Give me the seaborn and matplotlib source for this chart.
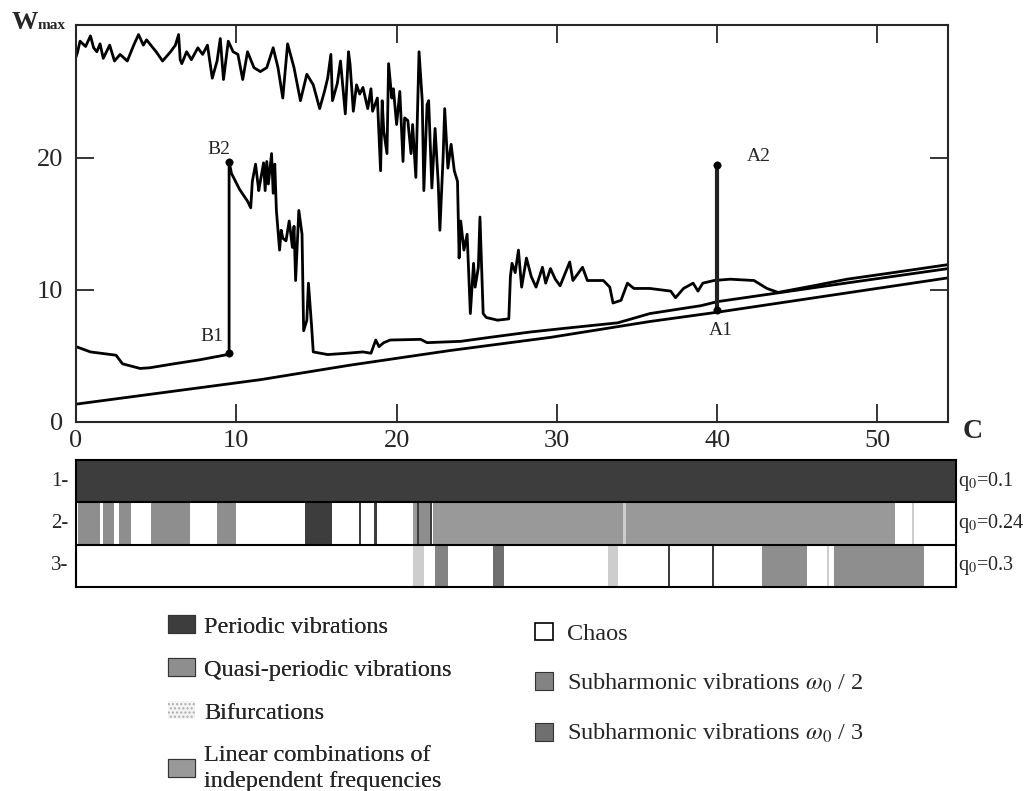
import matplotlib
matplotlib.use('Agg')
import matplotlib.pyplot as plt
import seaborn as sns
import pandas as pd
from matplotlib.patches import Patch

# ---- data ----
# upper (chaotic) response curve
top_c = [0, 0.1, 0.25, 0.6, 0.9, 1.1, 1.3, 1.5, 1.7, 2.1, 2.4, 2.75, 3.2, 3.6, 3.9, 4.2, 4.4, 4.6,
         5.0, 5.4, 5.9, 6.2, 6.4, 6.5, 6.6, 6.9, 7.2, 7.6, 7.9, 8.2, 8.5, 8.8, 9.0, 9.2, 9.5, 9.8,
         10.1, 10.4, 10.7, 11.1, 11.5, 11.9, 12.3, 12.6, 12.9, 13.2, 13.6, 14.0, 14.4, 14.8, 15.2,
         15.5, 15.7, 15.9, 16.0, 16.3, 16.5, 16.8, 17.0, 17.1, 17.3, 17.5, 17.7, 17.9, 18.2, 18.4,
         18.5, 18.8, 19.0, 19.1, 19.2, 19.4, 19.5, 19.7, 19.8, 20.0, 20.2, 20.4, 20.5, 20.7, 20.9,
         21.0, 21.2, 21.4, 21.6, 21.7, 21.9, 22.0, 22.2, 22.4, 22.6, 22.7, 22.9, 23.0, 23.2, 23.4,
         23.6, 23.8, 23.9, 24.0, 24.2, 24.4, 24.6, 24.8, 24.9, 25.1, 25.2, 25.4, 25.6, 26.3, 27.0,
         27.1, 27.2, 27.4, 27.6, 27.8, 28.1, 28.4, 28.7, 29.1, 29.3, 29.6, 29.9, 30.2, 30.5, 30.8,
         31.0, 31.3, 31.6, 31.9, 32.9, 33.3, 33.5, 34.0, 34.4, 34.8, 35.8, 37.1, 37.4, 37.9, 38.5,
         38.8, 39.1, 39.8, 40.8, 42.3, 43.1, 43.8, 46.0, 48.1, 51.0, 54.4]
top_w = [27.6, 28.0, 28.8, 28.4, 29.2, 28.3, 28.0, 28.6, 27.5, 28.5, 27.3, 27.8, 27.3, 28.5, 29.3, 28.5, 28.9, 28.6,
         28.0, 27.3, 28.0, 28.5, 29.3, 27.4, 27.1, 28.0, 27.4, 28.3, 27.8, 28.5, 26.0, 27.3, 29.0, 25.9, 28.8, 28.0,
         27.8, 25.9, 28.0, 26.8, 26.5, 26.8, 28.3, 26.8, 24.5, 28.6, 26.8, 24.3, 26.3, 25.5, 23.7,
         25.0, 26.0, 27.8, 24.3, 25.6, 27.3, 23.3, 28.0, 27.0, 23.5, 25.5, 24.8, 25.3, 23.7, 25.2,
         23.5, 24.5, 19.0, 24.3, 22.0, 20.3, 27.1, 24.5, 25.2, 22.5, 25.0, 19.7, 23.0, 22.8, 20.3,
         22.5, 18.5, 28.0, 24.3, 17.5, 24.0, 24.3, 17.7, 22.2, 18.0, 14.5, 20.0, 23.7, 19.2, 21.0,
         19.0, 18.2, 12.4, 15.2, 13.0, 14.2, 8.2, 12.0, 10.2, 11.7, 15.5, 8.2, 7.9, 7.7, 7.8,
         11.0, 12.0, 11.3, 13.0, 10.2, 12.4, 11.0, 10.2, 11.7, 10.5, 11.6, 10.8, 10.3, 11.2, 12.1,
         10.7, 11.2, 11.7, 10.7, 10.7, 10.2, 9.0, 9.2, 10.5, 10.1, 10.1, 9.9, 9.4, 10.1, 10.5,
         9.9, 10.5, 10.7, 10.8, 10.7, 10.1, 9.8, 10.3, 10.8, 11.3, 11.9]

# middle curve with the B1 -> B2 jump
b_c = [0, 0.9, 2.5, 2.9, 4.0, 4.6, 6.1, 7.7, 9.45, 9.55, 9.55, 9.7, 10.2, 10.7, 10.9, 11.0, 11.2, 11.4,
       11.5, 11.7, 11.8, 11.9, 12.0, 12.2, 12.3, 12.4, 12.5, 12.7, 12.8, 12.9, 13.1, 13.3, 13.5, 13.6,
       13.7, 13.9, 14.1, 14.2, 14.4, 14.5, 14.7, 14.8, 15.7, 16.9, 17.9, 18.4, 18.7, 18.9, 19.2, 19.6,
       21.5, 21.9, 24.0, 25.8, 28.3, 30.6, 33.8, 35.8, 39.0, 40.0, 44.0, 48.0, 54.4]
b_w = [5.7, 5.3, 5.05, 4.4, 4.05, 4.1, 4.4, 4.7, 5.1, 5.2, 19.7, 18.8, 17.6, 16.7, 16.2, 18.2, 19.5, 17.5,
       18.2, 19.6, 17.5, 19.7, 18.0, 20.3, 17.3, 19.5, 16.0, 13.0, 14.5, 13.9, 13.7, 15.2, 13.2, 14.8,
       10.7, 16.0, 14.2, 6.9, 7.7, 10.5, 7.2, 5.3, 5.1, 5.2, 5.3, 5.2, 6.2, 5.7, 6.0, 6.2,
       6.25, 6.0, 6.1, 6.4, 6.8, 7.1, 7.5, 8.2, 8.8, 9.1, 9.8, 10.5, 11.6]

# lower, nearly straight curve
lin_c = [0, 11.5, 17.1, 23.3, 29.6, 35.8, 40.0, 54.4]
lin_w = [1.35, 3.2, 4.3, 5.4, 6.4, 7.6, 8.3, 10.9]

# jump points
jump_names = ['B1', 'B2', 'A1', 'A2']
jump_c = [9.55, 9.55, 40.0, 40.0]
jump_w = [5.2, 19.7, 8.5, 19.4]

# regime strips: one list per row (start, end, regime)
row1_start = [0.0]
row1_end = [54.9]
row1_kind = ['per']
row2_start = [0.1, 1.7, 2.7, 4.7, 8.8, 14.3, 17.65, 18.6, 21.0, 21.3, 21.4, 22.1, 22.3, 34.1, 34.3, 52.15]
row2_end = [1.5, 2.4, 3.4, 7.1, 10.0, 16.0, 17.8, 18.75, 21.3, 21.4, 22.1, 22.2, 34.1, 34.3, 51.1, 52.3]
row2_kind = ['quasi', 'quasi', 'quasi', 'quasi', 'quasi', 'per', 'per', 'per', 'lin', 'per', 'quasi', 'per',
             'lin', 'bif', 'lin', 'bif']
row3_start = [21.0, 22.4, 26.0, 33.2, 36.95, 39.65, 42.8, 46.85, 47.3]
row3_end = [21.7, 23.2, 26.7, 33.8, 37.07, 39.77, 45.6, 46.97, 52.9]
row3_kind = ['bif', 'sub2', 'sub3', 'bif', 'per', 'per', 'quasi', 'bif', 'quasi']
row_labels = ['1-', '2-', '3-']
q_labels = [r'q$_0$=0.1', r'q$_0$=0.24', r'q$_0$=0.3']

kinds = ['per', 'quasi', 'bif', 'lin', 'chaos', 'sub2', 'sub3']
kind_names = ['Periodic vibrations', 'Quasi-periodic vibrations', 'Bifurcations',
              'Linear combinations of\nindependent frequencies', 'Chaos',
              r'Subharmonic vibrations $\omega_0$ / 2', r'Subharmonic vibrations $\omega_0$ / 3']
kind_colors = {'per': '#3d3d3d', 'quasi': '#8e8e8e', 'bif': '#cdcdcd', 'lin': '#999999',
               'chaos': 'white', 'sub2': '#838383', 'sub3': '#6f6f6f'}

# ---- style ----
sns.set_style('ticks')
plt.rcParams['font.family'] = ['Liberation Serif', 'DejaVu Serif']
plt.rcParams['mathtext.fontset'] = 'stix'

fig = plt.figure(figsize=(10.3, 7.91), dpi=100)
ax = fig.add_axes([0.0738, 0.4665, 0.8466, 0.5015])
ax2 = fig.add_axes([0.0738, 0.258, 0.8544, 0.1606])

# ---- main plot ----
for cx, wy in [(lin_c, lin_w), (b_c, b_w), (top_c, top_w)]:
    sns.lineplot(x=cx, y=wy, ax=ax, color='black', lw=2.0, estimator=None, sort=False)
sns.lineplot(x=jump_c[2:], y=jump_w[2:], ax=ax, color='#222222', lw=3.0, estimator=None, sort=False)
sns.scatterplot(x=jump_c, y=jump_w, ax=ax, color='black', s=28, edgecolor='black', zorder=5)

ax.text(8.9, 20.6, 'B2', fontsize=14, ha='center', va='center')
ax.text(8.5, 6.5, 'B1', fontsize=14, ha='center', va='center')
ax.text(42.6, 20.1, 'A2', fontsize=14, ha='center', va='center')
ax.text(40.2, 6.9, 'A1', fontsize=14, ha='center', va='center')

ax.set_xlim(0, 54.4)
ax.set_ylim(0, 30)
ax.set_xticks([0, 10, 20, 30, 40, 50])
ax.set_yticks([0, 10, 20])
ax.tick_params(direction='in', length=13, width=1.3, top=True, right=True, labelsize=19)
ax.tick_params(axis='x', pad=6)
ax.tick_params(axis='y', pad=9)
for s in ax.spines.values():
    s.set_linewidth(1.5)
ax.set_xlabel('')
ax.set_ylabel('')
fig.text(0.011, 0.972, 'W', fontsize=19, fontweight='bold', ha='left', va='center')
fig.text(0.036, 0.968, 'max', fontsize=11, fontweight='bold', ha='left', va='center')
fig.text(0.935, 0.455, 'C', fontsize=20, fontweight='bold', ha='left', va='center')

# ---- regime strips ----
rows = [(row1_start, row1_end, row1_kind), (row2_start, row2_end, row2_kind), (row3_start, row3_end, row3_kind)]
for i, (st, en, kd) in enumerate(rows):
    seg = pd.DataFrame({'start': st, 'end': en, 'kind': kd})
    seg['width'] = seg['end'] - seg['start']
    ax2.barh(y=[i + 0.5] * len(seg), width=seg['width'], left=seg['start'], height=1.0,
             color=[kind_colors[k] for k in seg['kind']], linewidth=0)
    ax2.text(-0.45, i + 0.5, row_labels[i], fontsize=15, ha='right', va='center')
    ax2.text(55.05, i + 0.5, q_labels[i], fontsize=14.5, ha='left', va='center')
for yy in [1, 2]:
    ax2.axhline(yy, color='black', lw=1.5)
ax2.set_xlim(0, 54.9)
ax2.set_ylim(3, 0)
ax2.set_xticks([])
ax2.set_yticks([])
for s in ax2.spines.values():
    s.set_linewidth(1.5)
    s.set_color('black')

# ---- legend ----
handles = []
for k, name in zip(kinds, kind_names):
    if k == 'bif':
        handles.append(Patch(facecolor='#f4f4f4', edgecolor='#aaaaaa', hatch='....', lw=0, label=name))
    elif k == 'chaos':
        handles.append(Patch(facecolor='white', edgecolor='black', lw=1.2, label=name))
    else:
        handles.append(Patch(facecolor=kind_colors[k], edgecolor='#333333', lw=0.8, label=name))

leg_kw = dict(frameon=False, fontsize=17.5, handleheight=0.75, borderaxespad=0, borderpad=0,
              loc='upper left')
leg1 = fig.legend(handles=handles[:4], bbox_to_anchor=(0.163, 0.222), handlelength=1.1,
                  handletextpad=0.4, labelspacing=0.85, **leg_kw)
leg1.get_texts()[3].set_linespacing(1.35)
fig.add_artist(leg1)
fig.legend(handles=handles[4:], bbox_to_anchor=(0.519, 0.213), handlelength=0.75,
           handletextpad=0.6, labelspacing=1.11, **leg_kw)

fig.savefig('out.png', dpi=100)
